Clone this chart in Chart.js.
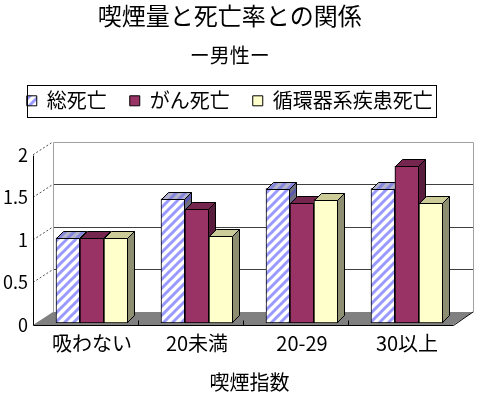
<!DOCTYPE html>
<html lang="ja">
<head>
<meta charset="utf-8">
<title>喫煙量と死亡率との関係</title>
<script src="https://cdn.jsdelivr.net/npm/chart.js@4"></script>
<style>
  html, body { margin: 0; padding: 0; background: #fff; }
  #chart { display: block; }
</style>
</head>
<body>
<canvas id="chart" width="477" height="394"></canvas>
<script>
const categories = ["吸わない", "20未満", "20-29", "30以上"];
const seriesNames = ["総死亡", "がん死亡", "循環器系疾患死亡"];
const totalDeath = [1.0, 1.46, 1.58, 1.58];
const cancerDeath = [1.0, 1.34, 1.41, 1.84];
const circulatoryDeath = [1.0, 1.02, 1.45, 1.41];
const yTicks = [0, 0.5, 1, 1.5, 2];

const canvas = document.getElementById("chart");
const ctx = canvas.getContext("2d");

// old excel look: depth of a bar, and where the floor front / back wall sit
const depth = { x: 7, y: -7 };
const front = { x: -6.5, y: 2 };
const back = { x: 13.5, y: -11 };

function stripes(bg, fg) {
  const tile = document.createElement("canvas");
  tile.width = 9;
  tile.height = 9;
  const g = tile.getContext("2d");
  g.fillStyle = bg;
  g.fillRect(0, 0, 9, 9);
  g.strokeStyle = fg;
  g.lineWidth = 3;
  for (const k of [0, 9, 18]) {
    g.beginPath();
    g.moveTo(k + 1, -1);
    g.lineTo(-1, k + 1);
    g.stroke();
  }
  return ctx.createPattern(tile, "repeat");
}

const faces = [
  { top: stripes("#b4b4cc", "#8484dc"), side: stripes("#70707c", "#5858b0") },
  { top: "#74264f", side: "#581d3c" },
  { top: "#cccc99", side: "#8e8e70" },
];

const px = (v) => Math.round(v) + 0.5;

function drawBackdrop(chart) {
  const { chartArea: a, scales: { x, y } } = chart;
  const fl = a.left + front.x;
  const fr = a.right + front.x;
  const bl = a.left + back.x;
  const br = a.right + back.x;
  const y0 = y.getPixelForValue(0);
  const yMax = y.getPixelForValue(yTicks[yTicks.length - 1]);

  ctx.lineWidth = 1;

  // floor
  ctx.fillStyle = "#808080";
  ctx.beginPath();
  ctx.moveTo(fl, y0 + front.y);
  ctx.lineTo(fr, y0 + front.y);
  ctx.lineTo(br, y0 + back.y);
  ctx.lineTo(bl, y0 + back.y);
  ctx.closePath();
  ctx.fill();

  // back wall grid
  for (const v of yTicks) {
    if (v === 0) continue;
    const yy = px(y.getPixelForValue(v) + back.y);
    ctx.strokeStyle = v === yTicks[yTicks.length - 1] ? "#a0a0a0" : "#404040";
    ctx.beginPath();
    ctx.moveTo(px(bl), yy);
    ctx.lineTo(px(br), yy);
    ctx.stroke();
  }
  ctx.strokeStyle = "#a0a0a0";
  ctx.beginPath();
  ctx.moveTo(px(bl), px(y0 + back.y));
  ctx.lineTo(px(bl), px(yMax + back.y));
  ctx.moveTo(px(br), px(yMax + back.y));
  ctx.lineTo(px(br), px(y0 + back.y));
  ctx.stroke();

  // side wall dashes
  ctx.strokeStyle = "#505050";
  ctx.setLineDash([2, 2]);
  for (const v of yTicks) {
    if (v === 0) continue;
    const yy = y.getPixelForValue(v);
    ctx.beginPath();
    ctx.moveTo(fl, yy + front.y);
    ctx.lineTo(bl, yy + back.y);
    ctx.stroke();
  }
  ctx.setLineDash([]);

  // axis lines
  ctx.strokeStyle = "#000";
  ctx.beginPath();
  ctx.moveTo(px(fl), px(yMax + front.y));
  ctx.lineTo(px(fl), px(y0 + front.y));
  ctx.lineTo(px(fr), px(y0 + front.y));
  ctx.lineTo(br, y0 + back.y);
  ctx.stroke();

  // category separators on the floor edge
  ctx.beginPath();
  for (let i = 1; i < categories.length; i++) {
    const bx = (x.getPixelForValue(i - 1) + x.getPixelForValue(i)) / 2 + front.x;
    ctx.moveTo(px(bx), px(y0 + front.y));
    ctx.lineTo(px(bx), px(y0 + front.y) - 5);
  }
  ctx.stroke();
}

function drawLegendFrame(chart) {
  const lg = chart.legend;
  const pad = lg.options.labels.padding;
  const rowWidth = lg.lineWidths[0];
  const start = (lg.left + pad + lg.right - rowWidth) / 2;
  const itemTop = lg.top + pad;
  ctx.strokeStyle = "#000";
  ctx.lineWidth = 1;
  const left = px(start);
  const right = px(start + rowWidth - pad + 3);
  const top = px(itemTop - 6);
  const bottom = px(itemTop + 26);
  ctx.strokeRect(left, top, right - left, bottom - top);
}

function drawBarFaces(chart) {
  const metas = chart.data.datasets.map((d, i) => chart.getDatasetMeta(i));
  ctx.strokeStyle = "#000";
  ctx.lineWidth = 1;
  categories.forEach((c, i) => {
    metas.forEach((meta, s) => {
      const bar = meta.data[i];
      const L = bar.x - bar.width / 2 + 0.5;
      const R = bar.x + bar.width / 2 - 0.5;
      const T = px(bar.y);
      const B = bar.base - 0.5;

      ctx.fillStyle = faces[s].side;
      ctx.beginPath();
      ctx.moveTo(R, T);
      ctx.lineTo(R + depth.x, T + depth.y);
      ctx.lineTo(R + depth.x, B + depth.y);
      ctx.lineTo(R, B);
      ctx.closePath();
      ctx.fill();
      ctx.stroke();

      ctx.fillStyle = faces[s].top;
      ctx.beginPath();
      ctx.moveTo(L, T);
      ctx.lineTo(R, T);
      ctx.lineTo(R + depth.x, T + depth.y);
      ctx.lineTo(L + depth.x, T + depth.y);
      ctx.closePath();
      ctx.fill();
      ctx.stroke();

      // the next bar hides this one's side
      if (metas[s + 1]) {
        metas[s + 1].data[i].draw(ctx);
        ctx.strokeStyle = "#000";
        ctx.lineWidth = 1;
      }
    });
  });
}

function guarded(fn) {
  return (chart) => {
    ctx.save();
    try {
      fn(chart);
    } catch (e) {
      console.error(e);
    }
    ctx.restore();
  };
}

const box3d = {
  id: "box3d",
  beforeLayout(chart) {
    // leave the gap between the legend and the plot
    const legend = chart.legend;
    if (legend && !legend._stretched) {
      const fit = legend.fit;
      legend.fit = function () {
        fit.call(this);
        this.height += 32;
      };
      legend._stretched = true;
    }
  },
  beforeDatasetsDraw: guarded((chart) => {
    drawBackdrop(chart);
    drawLegendFrame(chart);
  }),
  afterDatasetsDraw: guarded(drawBarFaces),
};

Chart.defaults.font.family = "'Noto Sans CJK JP', sans-serif";
Chart.defaults.color = "#000";

new Chart(canvas, {
  type: "bar",
  data: {
    labels: categories,
    datasets: [
      { label: seriesNames[0], data: totalDeath, backgroundColor: stripes("#ffffff", "#9999ff") },
      { label: seriesNames[1], data: cancerDeath, backgroundColor: "#993366" },
      { label: seriesNames[2], data: circulatoryDeath, backgroundColor: "#ffffcc" },
    ].map((d) => ({
      ...d,
      borderColor: "#000",
      borderWidth: 1,
      borderSkipped: false,
      barThickness: 24,
    })),
  },
  options: {
    responsive: false,
    animation: false,
    events: [],
    layout: { padding: { left: 0, right: 17.5, top: 0, bottom: 0 } },
    plugins: {
      title: {
        display: true,
        text: "喫煙量と死亡率との関係",
        font: { size: 24, weight: "normal" },
        padding: { top: 1, bottom: 0 },
      },
      subtitle: {
        display: true,
        text: "ー男性ー",
        font: { size: 20 },
        padding: { top: 14, bottom: 0 },
      },
      legend: {
        labels: {
          boxWidth: 10,
          boxHeight: 10,
          padding: 23,
          font: { size: 20 },
        },
      },
      tooltip: { enabled: false },
    },
    scales: {
      x: {
        grid: { display: false, drawTicks: false },
        border: { display: false },
        ticks: { font: { size: 20 }, padding: 8 },
        title: {
          display: true,
          text: "喫煙指数",
          font: { size: 20 },
          padding: { top: 0, bottom: 0 },
        },
        afterFit: (scale) => {
          scale.height = 71;
        },
      },
      y: {
        min: 0,
        max: 2,
        grid: { display: false, drawTicks: false },
        border: { display: false },
        ticks: {
          font: { size: 18 },
          padding: 11.5,
          labelOffset: 2,
          callback: (value) => String(value),
        },
        afterBuildTicks: (scale) => {
          scale.ticks = yTicks.map((value) => ({ value }));
        },
        afterFit: (scale) => {
          scale.width = 39.5;
        },
      },
    },
  },
  plugins: [box3d],
});
</script>
</body>
</html>
